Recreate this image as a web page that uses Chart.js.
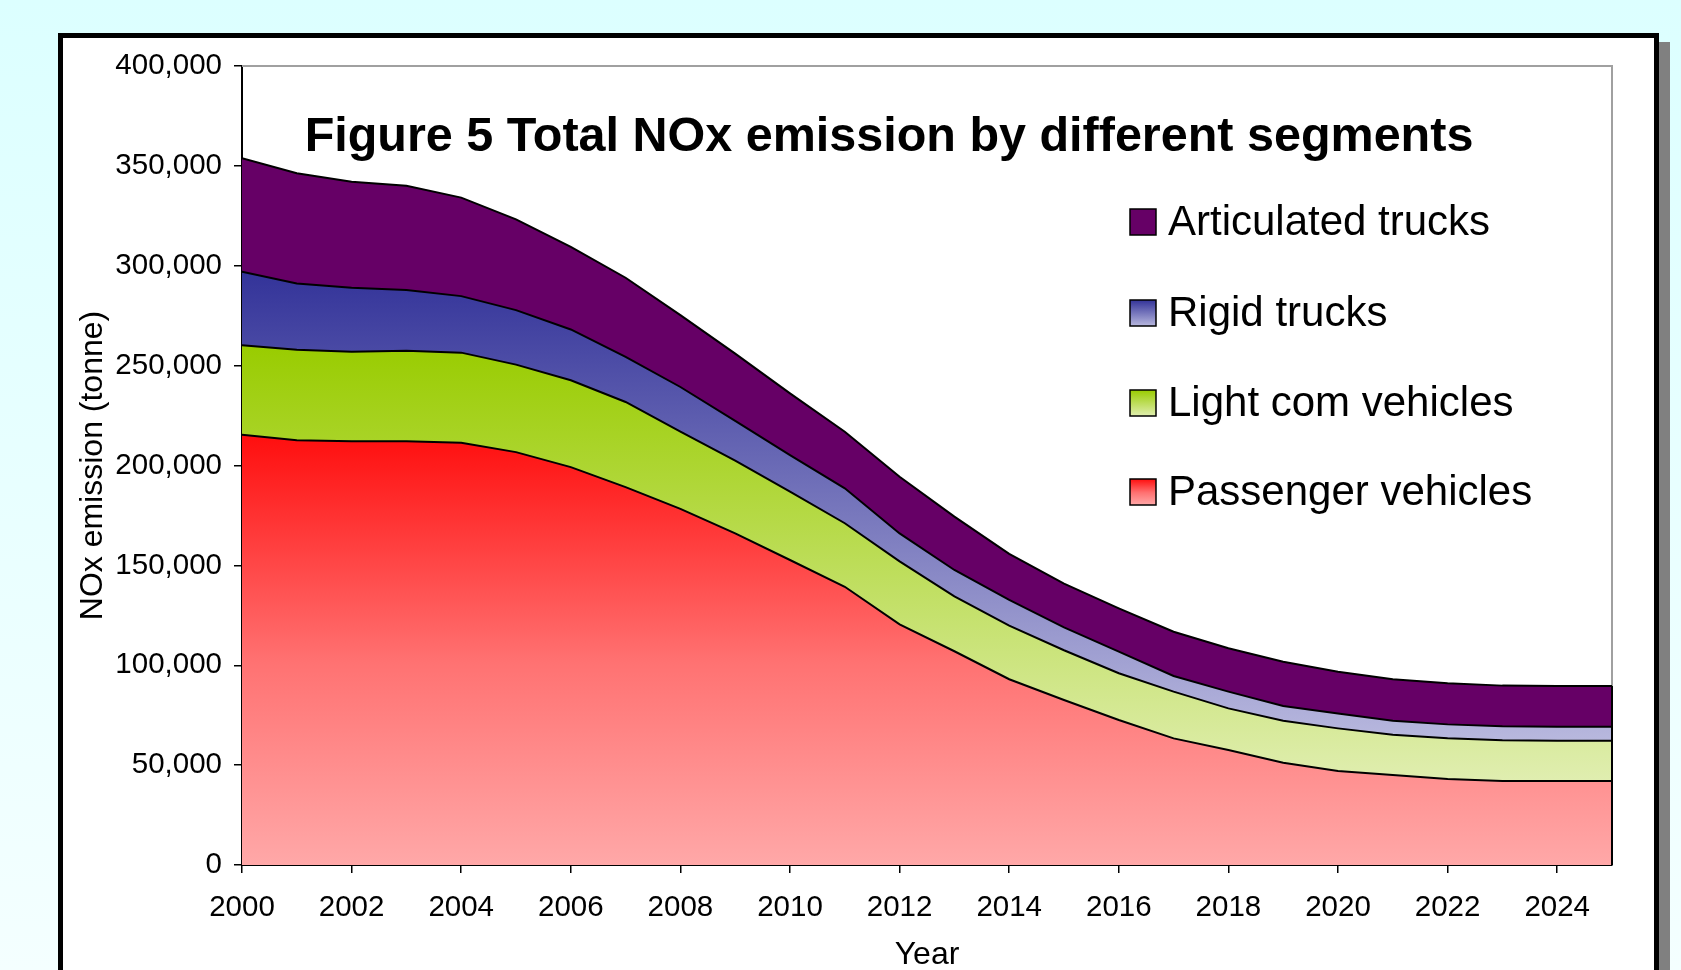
<!DOCTYPE html>
<html>
<head>
<meta charset="utf-8">
<script src="https://cdn.jsdelivr.net/npm/chart.js@4"></script>
<style>
html,body{margin:0;padding:0;width:1681px;height:970px;overflow:hidden;
  background:linear-gradient(to bottom,#dcffff 0%,#e8ffff 50%,#f4ffff 100%);}
#frame{position:absolute;left:58px;top:33px;width:1591px;height:1000px;background:#fff;
  border:5px solid #000;box-shadow:11px 9px 0 #808080;}
#wrap{position:absolute;left:0;top:0;width:1681px;height:970px;}
</style>
</head>
<body>
<div id="frame"></div>
<div id="wrap"><canvas id="c"></canvas></div>
<script>
const years = [2000,2001,2002,2003,2004,2005,2006,2007,2008,2009,2010,2011,2012,2013,2014,2015,2016,2017,2018,2019,2020,2021,2022,2023,2024,2025];
const passenger   = [215400,212600,212100,212100,211400,206700,199200,189200,178300,166000,152700,139300,120500,107000,93000,82600,72600,63400,57600,51200,47100,45100,43100,42100,42100,42100];
const lightCom    = [44800,45400,44800,45400,45100,43800,43500,42600,38700,36500,34200,31800,31500,27500,26800,24900,23400,23400,20800,21000,21300,20100,20300,20300,20100,20100];
const rigid       = [36800,33100,32100,30300,28300,27300,25400,22600,22300,19800,18300,17500,14000,13200,12900,11500,10800,7800,8400,7400,7500,7000,7000,7000,7000,7000];
const articulated = [56800,55200,53100,52200,49300,45400,41400,39600,36000,33700,30900,28300,28400,26700,23100,21900,21700,22200,21700,22200,20900,20800,20600,20400,20400,20400];
const seriesNames = ['Passenger vehicles','Light com vehicles','Rigid trucks','Articulated trucks'];
const yTickStep = 50000, yMax = 400000;
const xTickStep = 2;
const chartTitle = 'Figure 5 Total NOx emission by different segments';
const xTitle = 'Year';
const yTitle = 'NOx emission (tonne)';

const FONT = "'Liberation Sans', Arial, sans-serif";
const stacks = [passenger, lightCom, rigid, articulated];
const fills = [
  [[0,'#ff0e0e'],[0.53,'#ff7272'],[1,'#ffa8a8']],
  [[0,'#99cc00'],[1,'#e0eeb0']],
  [[0,'#333399'],[1,'#b8b8de']],
  [[0,'#660066'],[1,'#660066']]
];
function bounds(i){
  let lo=Infinity, hi=-Infinity;
  for(let k=0;k<years.length;k++){
    let b=0; for(let j=0;j<i;j++) b+=stacks[j][k];
    const t=b+stacks[i][k];
    lo=Math.min(lo,b); hi=Math.max(hi,t);
  }
  return [lo,hi];
}
function areaFill(i){
  return (ctx)=>{
    const ch=ctx.chart; const y=ch.scales && ch.scales.y;
    if(!ch.chartArea||!y) return fills[i][0][1];
    const [lo,hi]=bounds(i);
    const g=ch.ctx.createLinearGradient(0,y.getPixelForValue(hi),0,y.getPixelForValue(lo));
    fills[i].forEach(s=>g.addColorStop(s[0],s[1]));
    return g;
  };
}

const framePlugin = {
  id:'frameLines',
  beforeDatasetsDraw(ch){
    const {ctx, chartArea:a} = ch;
    ctx.save();
    ctx.strokeStyle='#a0a0a0'; ctx.lineWidth=2;
    ctx.beginPath(); ctx.moveTo(a.left,a.top); ctx.lineTo(a.right,a.top); ctx.lineTo(a.right,a.bottom); ctx.stroke();
    ctx.restore();
  },
  afterDatasetsDraw(ch){
    const {ctx} = ch; const x=ch.scales.x, y=ch.scales.y;
    const k=years.length-1;
    let tot=0; stacks.forEach(s=>tot+=s[k]);
    const px=x.getPixelForValue(years[k]);
    ctx.save(); ctx.strokeStyle='#000'; ctx.lineWidth=2;
    ctx.beginPath(); ctx.moveTo(px,y.getPixelForValue(0)); ctx.lineTo(px,y.getPixelForValue(tot)); ctx.stroke();
    ctx.restore();
  },
  afterDraw(ch){
    const ctx=ch.ctx;
    ctx.save();
    ctx.fillStyle='#000';
    ctx.font='bold 48.5px '+FONT;
    ctx.textAlign='center'; ctx.textBaseline='alphabetic';
    ctx.fillText(chartTitle, 889, 151);
    // legend
    const n=ch.data.datasets.length;
    const ys=[222,313,403,492];
    ctx.font='42px '+FONT;
    ctx.textAlign='left'; ctx.textBaseline='middle';
    for(let r=0;r<n;r++){
      const i=n-1-r;
      const cy=ys[r];
      const bx=1130, by=cy-13, bs=26;
      const g=ctx.createLinearGradient(0,by,0,by+bs);
      fills[i].forEach(s=>g.addColorStop(s[0],s[1]));
      ctx.fillStyle=g; ctx.fillRect(bx,by,bs,bs);
      ctx.strokeStyle='#000'; ctx.lineWidth=1.5; ctx.strokeRect(bx,by,bs,bs);
      ctx.fillStyle='#000';
      ctx.fillText(ch.data.datasets[i].label, 1168, cy+1);
    }
    ctx.restore();
  }
};

new Chart(document.getElementById('c'), {
  type:'line',
  data:{
    datasets: stacks.map((arr,i)=>({
      label: seriesNames[i],
      data: years.map((x,k)=>({x:x, y:arr[k]})),
      fill: i===0 ? 'origin' : '-1',
      backgroundColor: areaFill(i),
      borderColor:'#000', borderWidth:2,
      pointRadius:0, tension:0
    }))
  },
  options:{
    responsive:true, maintainAspectRatio:false, animation:false,
    layout:{padding:{left:0,top:66,right:69,bottom:0}},
    plugins:{legend:{display:false}, tooltip:{enabled:false}, title:{display:false}},
    scales:{
      x:{type:'linear', min:years[0], max:years[years.length-1],
        grid:{display:true, drawOnChartArea:false, drawTicks:true, tickLength:8, color:'#000', lineWidth:1.5},
        border:{color:'#000', width:2},
        ticks:{stepSize:xTickStep, includeBounds:false, autoSkip:false, maxRotation:0, color:'#000',
          font:{size:29.5, family:FONT}, padding:17, callback:v=>String(v)},
        title:{display:true, text:xTitle, color:'#000', font:{size:32, family:FONT, lineHeight:0.9}, padding:{top:0,bottom:0}},
        afterFit(s){ s.height=105; }
      },
      y:{stacked:true, min:0, max:yMax,
        grid:{display:true, drawOnChartArea:false, drawTicks:true, tickLength:8, color:'#000', lineWidth:1.5},
        border:{color:'#000', width:2},
        ticks:{stepSize:yTickStep, color:'#000', font:{size:29.5, family:FONT}, padding:12,
          callback:v=>v.toLocaleString('en-US')},
        title:{display:true, text:yTitle, color:'#000', font:{size:32, family:FONT}, padding:{top:74,bottom:0}},
        afterFit(s){ s.width=242; }
      }
    }
  },
  plugins:[framePlugin]
});
</script>
</body>
</html>
